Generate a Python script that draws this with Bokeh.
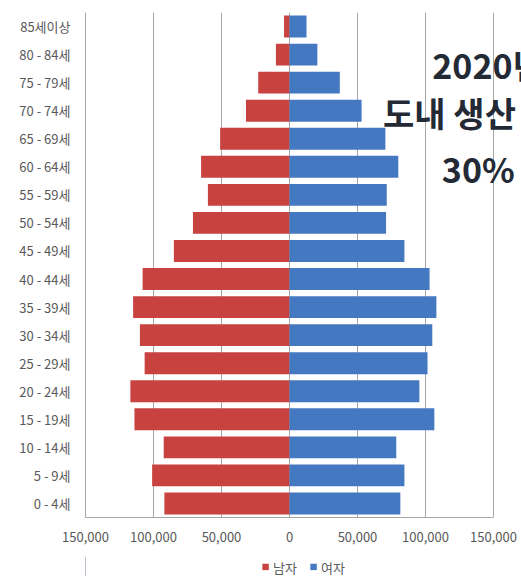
from bokeh.plotting import figure
from bokeh.layouts import column
from bokeh.models import (ColumnDataSource, FactorRange, Range1d, FixedTicker,
                          CustomJSTickFormatter, Legend, LegendItem, Label)
from bokeh.embed import file_html
from bokeh.resources import INLINE

# ---- data (top-to-bottom as shown in chart) ----
age_groups = ["85세이상", "80 - 84세", "75 - 79세", "70 - 74세", "65 - 69세", "60 - 64세",
              "55 - 59세", "50 - 54세", "45 - 49세", "40 - 44세", "35 - 39세", "30 - 34세",
              "25 - 29세", "20 - 24세", "15 - 19세", "10 - 14세", "5 - 9세", "0 - 4세"]
male = [4000, 10000, 23000, 32000, 51000, 65000, 60000, 71000, 85000,
        108000, 115000, 110000, 106500, 117000, 114000, 92500, 101000, 92000]
female = [12500, 20500, 37000, 53000, 70500, 80000, 71500, 71000, 84500,
          103000, 108000, 105000, 101500, 95500, 106500, 78500, 84500, 81500]
x_ticks = [-150000, -100000, -50000, 0, 50000, 100000, 150000]
series_names = ["남자", "여자"]
overlay_lines = ["2020년", "도내 생산", "30%"]

RED = "#C8423F"
BLUE = "#4479C2"
GRID = "#A6A6A6"
LABEL = "#595959"
FONT = "Noto Sans CJK KR"

factors = list(reversed(age_groups))
src = ColumnDataSource(dict(
    age=age_groups,
    m_left=[-v for v in male],
    zero=[0] * len(male),
    f_right=female,
))

# frame extends to the right window edge so the overlay text is not clipped
x_max = 150000 + 28 * (300000 / 408)
p = figure(frame_width=436, frame_height=505, output_backend="svg", toolbar_location=None,
           y_range=FactorRange(factors=factors, range_padding=0),
           x_range=Range1d(-150000, x_max),
           min_border_left=85, min_border_right=0, min_border_top=12, min_border_bottom=39)
p.outline_line_color = None
p.background_fill_color = "white"
p.border_fill_color = "white"

r_m = p.hbar(y="age", left="m_left", right="zero", height=0.78, source=src,
             fill_color=RED, line_color=None)
r_f = p.hbar(y="age", left="zero", right="f_right", height=0.78, source=src,
             fill_color=BLUE, line_color=None)

# x axis
p.xaxis.ticker = FixedTicker(ticks=x_ticks)
p.xaxis.bounds = (-150000, 150000)
p.xaxis.formatter = CustomJSTickFormatter(code="return Math.abs(tick).toLocaleString('en-US');")
p.xaxis.axis_line_color = GRID
p.xaxis.major_tick_line_color = None
p.xaxis.minor_tick_line_color = None
p.xaxis.major_tick_out = 0
p.xaxis.major_label_standoff = 14
p.xaxis.major_label_text_font = FONT
p.xaxis.major_label_text_font_size = "13px"
p.xaxis.major_label_text_color = LABEL

# y axis
p.yaxis.axis_line_color = GRID
p.yaxis.major_tick_line_color = None
p.yaxis.major_tick_out = 0
p.yaxis.major_label_standoff = 15
p.yaxis.major_label_text_font = FONT
p.yaxis.major_label_text_font_size = "13px"
p.yaxis.major_label_text_color = LABEL

# grid
p.xgrid.ticker = FixedTicker(ticks=x_ticks)
p.xgrid.grid_line_color = GRID
p.xgrid.grid_line_width = 1
p.ygrid.grid_line_color = None

# overlay text
overlay_x = [105000, 68800, 112000]
overlay_y = [16.14, 14.43, 12.44]
for t, xx, yy in zip(overlay_lines, overlay_x, overlay_y):
    p.add_layout(Label(x=xx, y=yy, text=t, text_font=FONT, text_font_style="bold",
                       text_font_size="34px", text_color="#232A35",
                       text_baseline="middle", text_align="left"))

# legend strip below the chart; its renderers use the same data, kept out of view
lf = figure(width=521, height=21, output_backend="svg", toolbar_location=None,
            min_border=0, outline_line_color=None,
            x_axis_location=None, y_axis_location=None,
            y_range=FactorRange(factors=factors), x_range=Range1d(200000, 300000))
lf.grid.visible = False
lm = lf.hbar(y="age", left="m_left", right="zero", source=src, fill_color=RED, line_color=None)
lw = lf.hbar(y="age", left="zero", right="f_right", source=src, fill_color=BLUE, line_color=None)
legend = Legend(items=[LegendItem(label=series_names[0], renderers=[lm]),
                       LegendItem(label=series_names[1], renderers=[lw])],
                orientation="horizontal", location="center",
                glyph_width=8, glyph_height=8, label_height=14, label_text_font=FONT,
                label_text_font_size="13px", label_text_color=LABEL,
                label_text_baseline="middle",
                border_line_color=None, background_fill_alpha=0,
                spacing=12, padding=0, margin=0, label_standoff=4)
lf.add_layout(legend, "center")

layout = column(p, lf, spacing=0)
open("out.html", "w").write(file_html(layout, INLINE))
